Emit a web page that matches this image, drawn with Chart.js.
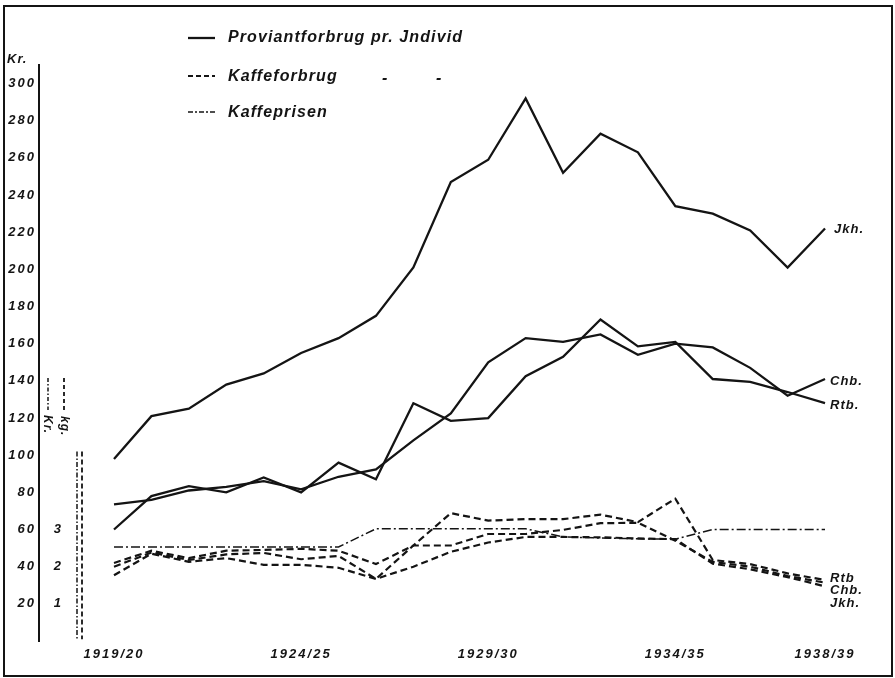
<!DOCTYPE html>
<html><head><meta charset="utf-8">
<script src="https://cdn.jsdelivr.net/npm/chart.js@4/dist/chart.umd.min.js"></script>
<style>html,body{margin:0;padding:0;background:#fff}#wrap{width:895px;height:678px}</style>
</head><body><div id="wrap"><canvas id="c" width="895" height="678" style="width:895px;height:678px"></canvas></div>
<script>
// ---------- data ----------
const years = ['1919/20','1920/21','1921/22','1922/23','1923/24','1924/25','1925/26','1926/27','1927/28','1928/29',
               '1929/30','1930/31','1931/32','1932/33','1933/34','1934/35','1935/36','1936/37','1937/38','1938/39'];
const labelledYears = ['1919/20','1924/25','1929/30','1934/35','1938/39'];
const krTicks = [20,40,60,80,100,120,140,160,180,200,220,240,260,280,300];
const unitTicks = [1,2,3];

// Proviantforbrug pr. Individ (Kr.)
const provJkh = [98,121,125,138,144,155,163,175,201,247,259,292,252,273,263,234,230,221,201,222];
const provChb = [73.5,76,81,83,86,81.6,88.4,92.4,108,122.5,150,163,161,165,154,160,158,147,132,141];
const provRtb = [60,78,83.3,80,88,80,96,87,128,118.5,120,142.5,153,173,158.6,161,141,139.5,134,128];

// Kaffeforbrug pr. Individ (kg)
const kaffeRtb = [2.00,2.38,2.18,2.33,2.37,2.20,2.29,1.67,2.57,3.44,3.24,3.28,3.28,3.40,3.20,3.83,2.18,2.07,1.82,1.64];
const kaffeChb = [2.10,2.43,2.23,2.43,2.45,2.48,2.43,2.07,2.57,2.57,2.88,2.88,2.99,3.17,3.18,2.70,2.13,2.00,1.75,1.57];
const kaffeJkh = [1.77,2.35,2.13,2.23,2.05,2.05,1.97,1.67,2.00,2.40,2.65,2.80,2.80,2.79,2.76,2.74,2.08,1.93,1.72,1.47];

// Kaffeprisen (Kr. pr. kg)
const kaffepris = [2.53,2.53,2.53,2.53,2.53,2.53,2.53,3.02,3.02,3.02,3.02,3.02,2.80,2.77,2.75,2.74,3.00,3.00,3.00,3.00];

// ---------- styling ----------
const ink = '#141414';
const FAM = '"Liberation Sans", Arial, sans-serif';
const axisFont = {family: FAM, size: 13, style: 'italic', weight: 'bold'};
const pts = arr => arr.map((v, i) => ({x: i, y: v}));
const solid = (label, d) => ({label, data: pts(d), yAxisID: 'y', borderColor: ink, borderWidth: 2.3, pointRadius: 0, tension: 0, fill: false});
const dashed = (label, d) => ({label, data: pts(d), yAxisID: 'y2', borderColor: ink, borderWidth: 2.2, borderDash: [7, 4], pointRadius: 0, tension: 0, fill: false});

const deco = {
  id: 'deco',
  beforeDraw(chart) {
    const c = chart.ctx;
    c.save(); c.fillStyle = '#fff'; c.fillRect(0, 0, chart.width, chart.height); c.restore();
    c.letterSpacing = '2px';
  },
  afterDraw(chart) {
    const c = chart.ctx, xs = chart.scales.x, ys = chart.scales.y, y2 = chart.scales.y2;
    c.save();
    c.strokeStyle = ink; c.fillStyle = ink;
    // frame
    c.lineWidth = 2; c.setLineDash([]);
    c.strokeRect(4, 6, 888, 670);

    // legend
    const seg = (x1, y1, x2, y2_, dash, w) => { c.beginPath(); c.setLineDash(dash); c.lineWidth = w; c.moveTo(x1, y1); c.lineTo(x2, y2_); c.stroke(); };
    seg(188, 38, 215, 38, [], 2.3);
    seg(188, 76, 215, 76, [5, 3], 2);
    seg(188, 112, 215, 112, [5, 2, 2, 2], 1.6);
    c.setLineDash([]);
    c.font = 'italic bold 16px ' + FAM;
    c.letterSpacing = '1.1px';
    c.textBaseline = 'middle'; c.textAlign = 'left';
    c.fillText('Proviantforbrug pr. Jndivid', 228, 38);
    c.fillText('Kaffeforbrug', 228, 77);
    c.fillText('-', 382, 79);
    c.fillText('-', 436, 79);
    c.fillText('Kaffeprisen', 228, 113);

    // axis unit
    c.font = 'italic bold 13px ' + FAM;
    c.letterSpacing = '1px';
    c.fillText('Kr.', 7, 59);

    // small unit markers for inner scale
    seg(48, 378, 48, 410, [4, 2, 1.5, 2], 1.5);
    seg(64, 378, 64, 410, [4, 3], 1.8);
    c.setLineDash([]);
    c.font = 'italic bold 12px ' + FAM;
    const rot = (t, x, y) => { c.save(); c.translate(x, y); c.rotate(Math.PI / 2); c.textAlign = 'left'; c.textBaseline = 'middle'; c.fillText(t, 0, 0); c.restore(); };
    rot('Kr.', 47, 415);
    rot('kg.', 64, 416);

    // inner (kg / Kr.) axis drawn as double line
    const top2 = y2.getPixelForValue(5.1), bot2 = y2.getPixelForValue(0.05);
    seg(77, top2, 77, bot2, [5, 2, 1.5, 2], 1.5);
    seg(82, top2, 82, bot2, [5, 3], 1.8);
    c.setLineDash([]);

    // end labels
    c.font = 'italic bold 13px ' + FAM;
    c.letterSpacing = '1px';
    c.textAlign = 'left'; c.textBaseline = 'middle';
    const xe = xs.getPixelForValue(years.length - 1);
    c.fillText('Jkh.', xe + 9, ys.getPixelForValue(provJkh[19]) + 1);
    c.fillText('Chb.', xe + 5, ys.getPixelForValue(provChb[19]) + 2);
    c.fillText('Rtb.', xe + 5, ys.getPixelForValue(provRtb[19]) + 2);
    const yb = y2.getPixelForValue(kaffeRtb[19]) - 2;
    c.fillText('Rtb', xe + 5, yb);
    c.fillText('Chb.', xe + 5, yb + 12.5);
    c.fillText('Jkh.', xe + 5, yb + 25);
    c.restore();
  }
};

new Chart(document.getElementById('c').getContext('2d'), {
  type: 'line',
  data: {
    datasets: [
      solid('Proviantforbrug Jkh.', provJkh),
      solid('Proviantforbrug Chb.', provChb),
      solid('Proviantforbrug Rtb.', provRtb),
      dashed('Kaffeforbrug Rtb.', kaffeRtb),
      dashed('Kaffeforbrug Chb.', kaffeChb),
      dashed('Kaffeforbrug Jkh.', kaffeJkh),
      {label: 'Kaffeprisen', data: pts(kaffepris), yAxisID: 'y2', borderColor: ink, borderWidth: 1.5,
       borderDash: [9, 3, 2, 3], pointRadius: 0, tension: 0, fill: false}
    ]
  },
  options: {
    responsive: false, animation: false, devicePixelRatio: 1,
    layout: {padding: {left: 6, right: 15, top: 65, bottom: 0}},
    plugins: {legend: {display: false}, tooltip: {enabled: false}},
    scales: {
      x: {
        type: 'linear', position: 'bottom', min: -0.9086, max: 20.469,
        grid: {display: false, drawTicks: false}, border: {display: false},
        afterBuildTicks: s => { s.ticks = labelledYears.map(l => ({value: years.indexOf(l)})); },
        afterFit: s => { s.height = 37; },
        ticks: {autoSkip: false, maxRotation: 0, padding: 6, color: ink, font: axisFont, callback: v => years[v]}
      },
      y: {
        type: 'linear', position: 'left', weight: 1, min: 0, max: 310,
        grid: {display: false, drawTicks: false}, border: {display: true, color: ink, width: 2},
        afterBuildTicks: s => { s.ticks = krTicks.map(v => ({value: v})); },
        afterFit: s => { s.width = 33; },
        ticks: {padding: 3, color: ink, font: axisFont, callback: v => String(v)}
      },
      y2: {
        type: 'linear', position: 'left', weight: 0, min: 0, max: 15.5,
        grid: {display: false, drawTicks: false}, border: {display: false},
        afterBuildTicks: s => { s.ticks = unitTicks.map(v => ({value: v})); },
        afterFit: s => { s.width = 41; },
        ticks: {padding: 17, color: ink, font: axisFont, callback: v => String(v)}
      }
    }
  },
  plugins: [deco]
});
</script>
</body></html>
